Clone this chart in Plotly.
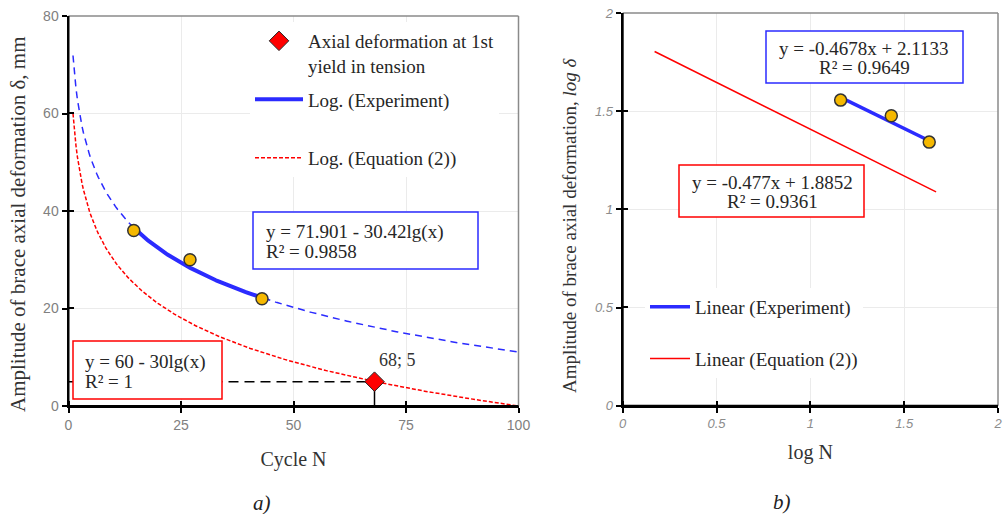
import numpy as np
import plotly.graph_objects as go

# ---------------- data ----------------
cycles = [14.5, 27, 43]            # Cycle N of experiment points
amplitude = [36, 30, 22]           # amplitude of brace axial deformation, mm
yield_N = [68]                     # axial deformation at 1st yield in tension
yield_amp = [5]
exp_log_fit = (71.901, 30.42)      # y = a - b*lg(x)  (Experiment)
eq2_log_fit = (60.0, 30.0)         # y = a - b*lg(x)  (Equation (2))
n_range = [1, 100]
exp_lin_fit = (-0.4678, 2.1133)    # log-log linear fit (Experiment)
eq2_lin_fit = (-0.477, 1.8852)     # log-log linear fit (Equation (2))
eq2_logN_range = [0.17, 1.67]
x_ticks_left = [0, 25, 50, 75, 100]
y_ticks_left = [0, 20, 40, 60, 80]
ticks_right = [0, 0.5, 1, 1.5, 2]

W, H = 1005, 514
def px(x): return x / W
def py(y): return 1 - y / H

serif = "Liberation Serif"
BLUE = "#2B2BFF"
RED = "#FF0000"
ORANGE = "#F5B800"
TXT = "#262626"

fig = go.Figure()

# ---- left chart ----
nn = np.linspace(n_range[0], n_range[1], 300)
fig.add_trace(go.Scatter(x=nn, y=exp_log_fit[0] - exp_log_fit[1] * np.log10(nn), mode="lines",
                         line=dict(color=BLUE, width=1.5, dash="7px,5px"), showlegend=False,
                         xaxis="x", yaxis="y", hoverinfo="skip"))
fig.add_trace(go.Scatter(x=nn, y=eq2_log_fit[0] - eq2_log_fit[1] * np.log10(nn), mode="lines",
                         line=dict(color=RED, width=1.5, dash="4px,2px"), name="Log. (Equation (2))",
                         legend="legend", legendgroup="c", legendrank=3, xaxis="x", yaxis="y"))
ne = np.linspace(min(cycles), max(cycles), 100)
fig.add_trace(go.Scatter(x=ne, y=exp_log_fit[0] - exp_log_fit[1] * np.log10(ne), mode="lines",
                         line=dict(color=BLUE, width=4), name="Log. (Experiment)<br>\u00a0",
                         legend="legend", legendgroup="b", legendrank=2, xaxis="x", yaxis="y"))
fig.add_trace(go.Scatter(x=cycles, y=amplitude, mode="markers",
                         marker=dict(color=ORANGE, size=12, line=dict(color="#333", width=1.5)),
                         showlegend=False, xaxis="x", yaxis="y"))
# guide lines to the yield point
fig.add_trace(go.Scatter(x=[0, yield_N[0]], y=[yield_amp[0], yield_amp[0]], mode="lines",
                         line=dict(color="black", width=1.5, dash="10px,6px"), showlegend=False,
                         xaxis="x", yaxis="y", hoverinfo="skip"))
fig.add_trace(go.Scatter(x=[yield_N[0], yield_N[0]], y=[0, yield_amp[0]], mode="lines",
                         line=dict(color="black", width=1.5), showlegend=False,
                         xaxis="x", yaxis="y", hoverinfo="skip"))
fig.add_trace(go.Scatter(x=yield_N, y=yield_amp, mode="markers",
                         marker=dict(symbol="diamond", color=RED, size=15, line=dict(color="#222", width=1)),
                         name="Axial deformation at 1st<br>yield in tension",
                         legend="legend", legendgroup="a", legendrank=1, xaxis="x", yaxis="y"))

# ---- right chart ----
logN = np.log10(cycles)
logA = np.log10(amplitude)
xr = np.array(eq2_logN_range)
fig.add_trace(go.Scatter(x=xr, y=eq2_lin_fit[0] * xr + eq2_lin_fit[1], mode="lines",
                         line=dict(color=RED, width=1.5), name="Linear (Equation (2))",
                         legend="legend2", legendgroup="e", legendrank=2, xaxis="x2", yaxis="y2"))
xe = np.array([logN.min(), logN.max()])
fig.add_trace(go.Scatter(x=xe, y=exp_lin_fit[0] * xe + exp_lin_fit[1], mode="lines",
                         line=dict(color=BLUE, width=3.5), name="Linear (Experiment)",
                         legend="legend2", legendgroup="d", legendrank=1, xaxis="x2", yaxis="y2"))
fig.add_trace(go.Scatter(x=logN, y=logA, mode="markers",
                         marker=dict(color=ORANGE, size=12, line=dict(color="#333", width=1.5)),
                         showlegend=False, xaxis="x2", yaxis="y2"))

L_box = (68.5, 16, 518.5, 406)      # plot-area edges in pixels (left, top, right, bottom)
R_box = (622.7, 13, 998, 405.7)
L_dom_x = [px(L_box[0]), px(L_box[2])]
L_dom_y = [py(L_box[3]), py(L_box[1])]
R_dom_x = [px(R_box[0]), px(R_box[2])]
R_dom_y = [py(R_box[3]), py(R_box[1])]

tickfont_l = dict(family="Liberation Sans", size=14, color="#808080")
tickfont_r = dict(family="Liberation Sans", size=13, color="#8C8C8C", style="italic")
grid = "#EBEBEB"
tfont = dict(family=serif, size=20, color="#333")

def axis(dom, anchor, rng, tv, tf, **kw):
    eps = (rng[1] - rng[0]) * 1e-4
    return dict(domain=dom, anchor=anchor, range=rng, tickvals=tv, tickfont=tf,
                showline=True, linecolor="#000000", linewidth=2, mirror=False,
                ticks="outside", ticklen=5, tickcolor="#000000", tickwidth=1.5,
                minor=dict(tickvals=[v + eps for v in tv], ticks="inside", ticklen=5,
                           tickcolor="#000000", tickwidth=1.5, showgrid=False),
                showgrid=True, gridcolor=grid, gridwidth=1, zeroline=False, automargin=False, **kw)

fig.update_layout(
    width=W, height=H, autosize=False,
    margin=dict(l=0, r=0, t=0, b=0),
    paper_bgcolor="white", plot_bgcolor="white",
    font=dict(family=serif, size=19, color=TXT),
    xaxis=axis(L_dom_x, "y", [0, 100], x_ticks_left, tickfont_l,
               title=dict(text="Cycle N", standoff=20, font=tfont)),
    yaxis=axis(L_dom_y, "x", [0, 80], y_ticks_left, tickfont_l),
    xaxis2=axis(R_dom_x, "y2", [0, 2], ticks_right, tickfont_r,
                title=dict(text="log N", standoff=15, font=tfont)),
    yaxis2=axis(R_dom_y, "x2", [0, 2], ticks_right, tickfont_r),
    legend=dict(x=px(250), y=py(22), xanchor="left", yanchor="top", bgcolor="white",
                font=dict(family=serif, size=19, color=TXT), itemwidth=48, valign="top",
                tracegroupgap=6, traceorder="grouped"),
    legend2=dict(x=px(645), y=py(288), xanchor="left", yanchor="top", bgcolor="white",
                 font=dict(family=serif, size=19, color=TXT), itemwidth=40,
                 tracegroupgap=24, traceorder="grouped"),
    showlegend=True,
)

# frame: top/right grey, left/bottom black axis lines (paper coordinates, not clipped)
for (l, t, r, b) in (L_box, R_box):
    fig.add_shape(type="line", xref="paper", yref="paper", x0=px(l), x1=px(r), y0=py(t), y1=py(t),
                  line=dict(color="#8A8A8A", width=1.5), layer="above")
    fig.add_shape(type="line", xref="paper", yref="paper", x0=px(r), x1=px(r), y0=py(t), y1=py(b),
                  line=dict(color="#8A8A8A", width=1.5), layer="above")
    fig.add_shape(type="line", xref="paper", yref="paper", x0=px(l), x1=px(l), y0=py(t), y1=py(b + 1),
                  line=dict(color="#000000", width=2), layer="above")
    fig.add_shape(type="line", xref="paper", yref="paper", x0=px(l - 1), x1=px(r), y0=py(b), y1=py(b),
                  line=dict(color="#000000", width=2), layer="above")

# y-axis titles (rotated text, placed like the reference)
fig.add_annotation(text="Amplitude of brace axial deformation δ, mm", xref="paper", yref="paper",
                   x=px(18), y=py(224), xanchor="center", yanchor="middle", textangle=-90,
                   showarrow=False, font=dict(family=serif, size=21, color="#333"))
fig.add_annotation(text="Amplitude of brace axial deformation, <i>log δ</i>", xref="paper", yref="paper",
                   x=px(569), y=py(225), xanchor="center", yanchor="middle", textangle=-90,
                   showarrow=False, font=dict(family=serif, size=19, color="#333"))

def box(lines, x0, y0, x1, y1, line_ys, color, align, text_x):
    fig.add_shape(type="rect", xref="paper", yref="paper", x0=px(x0), x1=px(x1), y0=py(y0), y1=py(y1),
                  fillcolor="white", line=dict(color=color, width=1.5), layer="above")
    for t, ly in zip(lines, line_ys):
        fig.add_annotation(text=t, xref="paper", yref="paper", x=px(text_x), y=py(ly),
                           xanchor=align, yanchor="middle", showarrow=False,
                           font=dict(family=serif, size=19, color=TXT))

box(["y = 60 - 30lg(x)", "R² = 1"], 73, 341, 222, 399, [362, 381], RED, "left", 83)
box(["y = 71.901 - 30.42lg(x)", "R² = 0.9858"], 253, 212, 478, 269, [232, 251], BLUE, "left", 264)
box(["y = -0.4678x + 2.1133", "R² = 0.9649"], 766, 31, 963, 83, [48, 68], BLUE, "center", 864)
box(["y = -0.477x + 1.8852", "R² = 0.9361"], 679, 165, 864, 217, [182, 202], RED, "center", 772)

fig.add_annotation(text=f"{yield_N[0]}; {yield_amp[0]}", x=yield_N[0], y=yield_amp[0], xref="x", yref="y",
                   showarrow=False, xshift=23, yshift=22, font=dict(family=serif, size=18, color="#333"))

fig.add_annotation(text="<i>a)</i>", xref="paper", yref="paper", x=px(262), y=py(503), showarrow=False,
                   xanchor="center", yanchor="middle", font=dict(family=serif, size=21, color="#222"))
fig.add_annotation(text="<i>b)</i>", xref="paper", yref="paper", x=px(782), y=py(502), showarrow=False,
                   xanchor="center", yanchor="middle", font=dict(family=serif, size=21, color="#222"))

fig.write_html("out.html", config={"displayModeBar": False},
               post_script="document.body.style.margin='0';document.body.style.overflow='hidden';")
